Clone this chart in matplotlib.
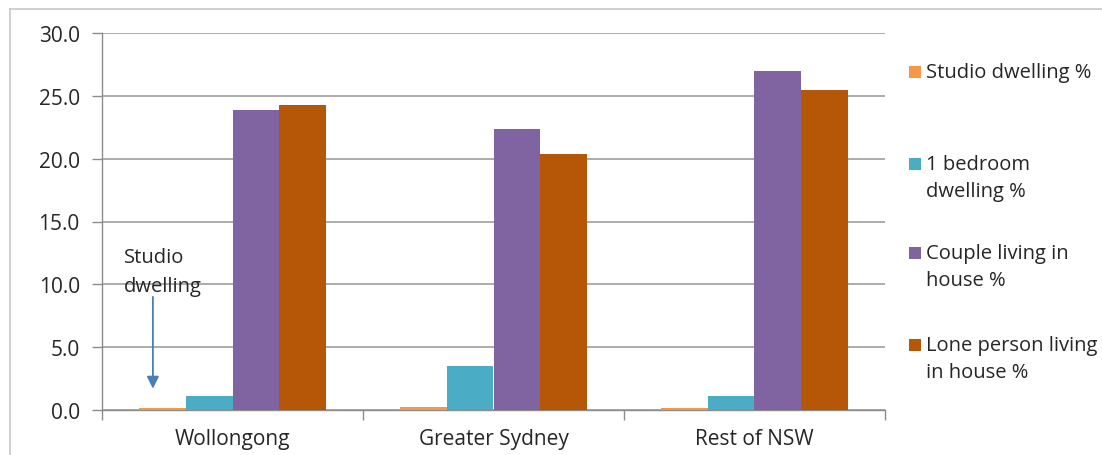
import matplotlib
matplotlib.use("Agg")
import matplotlib.pyplot as plt
from matplotlib.lines import Line2D
from matplotlib.patches import Rectangle
import numpy as np

plt.rcParams['font.family'] = ['Open Sans', 'DejaVu Sans']

regions = ["Wollongong", "Greater Sydney", "Rest of NSW"]
series_labels = ["Studio dwelling %", "1 bedroom\ndwelling %",
                 "Couple living in\nhouse %", "Lone person living\nin house %"]
studio = [0.15, 0.2, 0.15]
one_bedroom = [1.1, 3.5, 1.1]
couple_house = [23.9, 22.4, 27.0]
lone_house = [24.3, 20.4, 25.5]
y_ticks = [0, 5, 10, 15, 20, 25, 30]

colors = ["#F79646", "#4BACC6", "#8064A2", "#B65708"]
values = [studio, one_bedroom, couple_house, lone_house]
text_color = "#262626"
fs_axis = 15
fs_legend = 14.5

W, H = 1102, 456
fig = plt.figure(figsize=(W / 100, H / 100), dpi=100)
ax = fig.add_axes([102 / W, 1 - 411 / H, (885 - 102) / W, (411 - 34) / H])

x = np.arange(len(regions))
bw = 0.18
for i, (vals, col) in enumerate(zip(values, colors)):
    off = (i - 1.5) * bw
    ax.bar(x + off, vals, width=bw, color=col, edgecolor="none", zorder=3)

ax.set_xlim(-0.5, 2.5)
ax.set_ylim(0, 30)
ax.set_yticks(y_ticks)
ax.set_yticklabels([f"{v:.1f}" for v in y_ticks], fontsize=fs_axis, color=text_color)
ax.yaxis.grid(True, color="#A6A6A6", linewidth=1.3, zorder=0)
ax.set_axisbelow(True)

# category labels centred, tick marks at category boundaries
ax.set_xticks(x)
ax.set_xticklabels(regions, fontsize=fs_axis, color=text_color)
ax.tick_params(axis="x", length=0, pad=13)
ax.set_xticks(np.arange(-0.5, 3.0, 1.0), minor=True)
ax.tick_params(axis="x", which="minor", length=7, color="#8C8C8C", width=1)
ax.tick_params(axis="y", length=7, color="#8C8C8C", width=1, pad=9)

for s in ["top", "right"]:
    ax.spines[s].set_visible(False)
for s in ["left", "bottom"]:
    ax.spines[s].set_color("#8C8C8C")
    ax.spines[s].set_linewidth(1)

# annotation for the very small studio values
ax.annotate("", xy=(-0.305, 1.7), xytext=(-0.305, 9.0),
            arrowprops=dict(arrowstyle="-|>", color="#4A7EBB", lw=1.3,
                            mutation_scale=18, shrinkA=0, shrinkB=0))
ax.text(-0.415, 9.1, "Studio\ndwelling", fontsize=fs_legend, color=text_color,
        ha="left", va="bottom", linespacing=1.6)

# legend on the right, entries spread evenly down the plot height
first_line_y = [73, 165, 254, 346]
for lab, col, yc in zip(series_labels, colors, first_line_y):
    fig.add_artist(Rectangle((909 / W, 1 - (yc + 6) / H), 12 / W, 12 / H,
                             transform=fig.transFigure, facecolor=col,
                             edgecolor="none"))
    fig.text(926 / W, 1 - (yc - 10) / H, lab, fontsize=fs_legend, color=text_color,
             ha="left", va="top", linespacing=1.45)

# outer chart frame
fig.add_artist(Line2D([10 / W, 1.0], [1 - 10 / H, 1 - 10 / H],
                      transform=fig.transFigure, color="#C8C8C8", lw=1.2))
fig.add_artist(Line2D([10 / W, 10 / W], [0.0, 1 - 10 / H],
                      transform=fig.transFigure, color="#C8C8C8", lw=1.2))

fig.savefig("out.png", dpi=100, facecolor="white")
